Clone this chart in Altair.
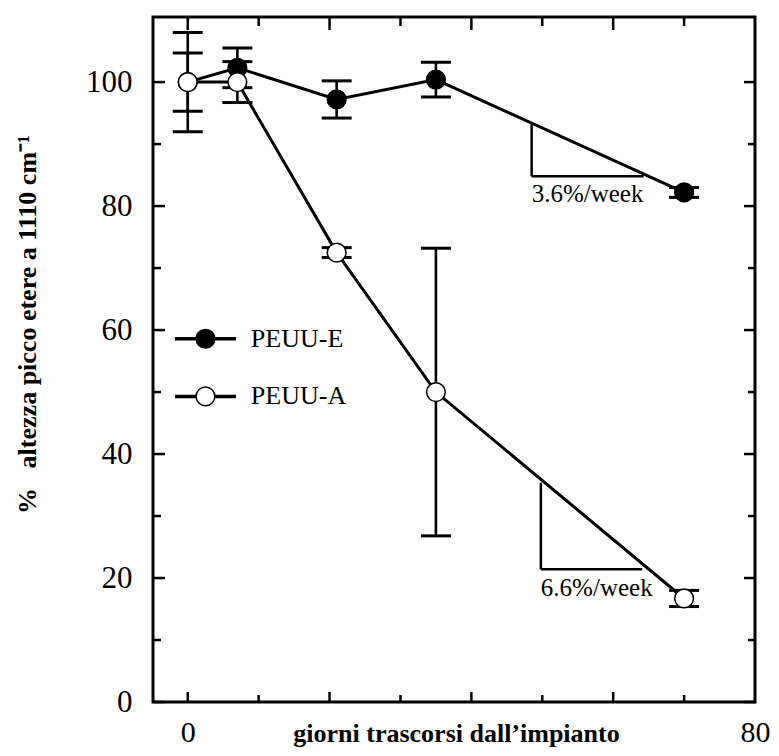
import altair as alt
import pandas as pd

# ---- data ----
days = [0, 7, 21, 35, 70]
peuu_e = [100.0, 102.3, 97.2, 100.4, 82.2]
peuu_e_err = [4.7, 3.2, 3.0, 2.8, 0.8]
peuu_a = [100.0, 100.0, 72.5, 50.0, 16.7]
peuu_a_err = [8.0, 3.3, 0.8, 23.2, 1.3]
series_names = ["PEUU-E", "PEUU-A"]

x_label_values = [0, 80]
y_label_values = [0, 20, 40, 60, 80, 100]
x_major_ticks = [0, 20, 40, 60]
x_minor_ticks = [10, 30, 50, 70]
y_major_ticks = [0, 20, 40, 60, 80, 100]
y_minor_ticks = [10, 30, 50, 70, 90]

slope_labels = ["3.6%/week", "6.6%/week"]
tri_x0 = [48.5, 49.8]
tri_x1 = [64.3, 64.1]
tri_ylow = [84.8, 21.4]
tri_yhigh = [93.2, 35.4]
slope_text_y = [80.6, 17.1]

legend_y = [58.6, 49.3]
legend_line_x = [-1.8, 6.8]
legend_marker_x = 2.5
legend_text_x = 8.9

# ---- layout ----
W, H = 602, 685
FONT = "Liberation Serif"
xs = alt.Scale(domain=[-4.9, 80], nice=False, zero=False)
ys = alt.Scale(domain=[0, 110.5], nice=False, zero=False)

AX = alt.Axis(
    values=x_label_values, ticks=False, tickSize=0, domain=False, grid=False,
    labelFont=FONT, labelFontSize=30, labelColor="black", labelPadding=15,
    labelFlush=False, labelOverlap=False,
    title="giorni trascorsi dall\u2019impianto", titleFont=FONT, titleFontSize=26,
    titleFontWeight="bold", titleColor="black", titleBaseline="alphabetic",
    titleX=303, titleY=39, titleAlign="center")
AY = alt.Axis(
    values=y_label_values, ticks=False, tickSize=0, domain=False, grid=False,
    labelFont=FONT, labelFontSize=31, labelColor="black", labelPadding=21,
    labelFlush=False, labelOverlap=False,
    title="%\u00a0\u00a0\u00a0altezza picco etere a 1110 cm\u207b\u00b9", titleFont=FONT,
    titleFontSize=26, titleFontWeight="bold", titleColor="black", titleAngle=270,
    titleBaseline="middle", titleAlign="center", titleX=-126, titleY=307)

rows = []
for name, vals, errs in [("PEUU-E", peuu_e, peuu_e_err), ("PEUU-A", peuu_a, peuu_a_err)]:
    for d, v, e in zip(days, vals, errs):
        rows.append({"day": d, "value": v, "lo": v - e, "hi": v + e, "series": name})
df = pd.DataFrame(rows)
df_e = df[df.series == "PEUU-E"]
df_a = df[df.series == "PEUU-A"]


def X(f="day"):
    return alt.X(f"{f}:Q", scale=xs, axis=AX)


def Y(f="value"):
    return alt.Y(f"{f}:Q", scale=ys, axis=AY)


lines = alt.Chart(df).mark_line(color="black", strokeWidth=3).encode(
    x=X(), y=Y(), detail="series:N")

err_rule = alt.Chart(df).mark_rule(color="black", strokeWidth=2.6).encode(
    x=X(), y=Y("lo"), y2="hi:Q")
cap_lo = alt.Chart(df).mark_tick(color="black", orient="horizontal", size=30,
                                 thickness=3, opacity=1).encode(x=X(), y=Y("lo"))
cap_hi = alt.Chart(df).mark_tick(color="black", orient="horizontal", size=30,
                                 thickness=3, opacity=1).encode(x=X(), y=Y("hi"))

pts_e = alt.Chart(df_e).mark_point(shape="circle", filled=True, fill="black", stroke="black",
                                   strokeWidth=1.5, size=350, opacity=1).encode(x=X(), y=Y())
pts_a = alt.Chart(df_a).mark_point(shape="circle", filled=True, fill="white", stroke="black",
                                   strokeWidth=1.5, size=350, opacity=1).encode(x=X(), y=Y())


def tick_df(vals):
    return pd.DataFrame({"v": vals})


tk = dict(color="black", strokeWidth=2.5)
left_major = alt.Chart(tick_df(y_major_ticks)).mark_rule(**tk).encode(
    y=Y("v"), x=alt.value(0), x2=alt.value(12))
left_minor = alt.Chart(tick_df(y_minor_ticks)).mark_rule(**tk).encode(
    y=Y("v"), x=alt.value(0), x2=alt.value(8))
right_major = alt.Chart(tick_df(y_major_ticks)).mark_rule(**tk).encode(
    y=Y("v"), x=alt.value(W), x2=alt.value(W - 11))
right_minor = alt.Chart(tick_df(y_minor_ticks)).mark_rule(**tk).encode(
    y=Y("v"), x=alt.value(W), x2=alt.value(W - 7))
top_major = alt.Chart(tick_df(x_major_ticks)).mark_rule(**tk).encode(
    x=X("v"), y=alt.value(0), y2=alt.value(13))
top_minor = alt.Chart(tick_df(x_minor_ticks)).mark_rule(**tk).encode(
    x=X("v"), y=alt.value(0), y2=alt.value(9))
bot_major = alt.Chart(tick_df(x_major_ticks)).mark_rule(**tk).encode(
    x=X("v"), y=alt.value(H), y2=alt.value(H - 10))
bot_minor = alt.Chart(tick_df(x_minor_ticks)).mark_rule(**tk).encode(
    x=X("v"), y=alt.value(H), y2=alt.value(H - 7))

tri = pd.DataFrame({"x0": tri_x0, "x1": tri_x1, "ylo": tri_ylow, "yhi": tri_yhigh,
                    "label": slope_labels, "ty": slope_text_y})
tri_v = alt.Chart(tri).mark_rule(color="black", strokeWidth=2.5).encode(
    x=X("x0"), y=Y("ylo"), y2="yhi:Q")
tri_h = alt.Chart(tri).mark_rule(color="black", strokeWidth=2.5).encode(
    x=X("x0"), x2="x1:Q", y=Y("ylo"))
tri_t = alt.Chart(tri).mark_text(font=FONT, fontSize=25, align="left", baseline="alphabetic",
                                 color="black").encode(x=X("x0"), y=Y("ty"), text="label:N")

leg = pd.DataFrame({"name": series_names, "y": legend_y,
                    "lx0": [legend_line_x[0]] * 2, "lx1": [legend_line_x[1]] * 2,
                    "mx": [legend_marker_x] * 2, "tx": [legend_text_x] * 2})
leg_line = alt.Chart(leg).mark_rule(color="black", strokeWidth=3.5).encode(
    x=X("lx0"), x2="lx1:Q", y=Y("y"))
leg_e = alt.Chart(leg[leg.name == "PEUU-E"]).mark_point(
    shape="circle", filled=True, fill="black", stroke="black", strokeWidth=1.5,
    size=350, opacity=1).encode(x=X("mx"), y=Y("y"))
leg_a = alt.Chart(leg[leg.name == "PEUU-A"]).mark_point(
    shape="circle", filled=True, fill="white", stroke="black", strokeWidth=1.5,
    size=350, opacity=1).encode(x=X("mx"), y=Y("y"))
leg_t = alt.Chart(leg).mark_text(font=FONT, fontSize=26, align="left", baseline="middle",
                                 color="black").encode(x=X("tx"), y=Y("y"), text="name:N")

chart = alt.layer(
    lines, err_rule, cap_lo, cap_hi, pts_e, pts_a,
    left_major, left_minor, right_major, right_minor,
    top_major, top_minor, bot_major, bot_minor,
    tri_v, tri_h, tri_t, leg_line, leg_e, leg_a, leg_t,
).properties(
    width=W, height=H,
    autosize=alt.AutoSizeParams(type="none"),
    padding={"left": 145, "top": 9, "right": 16, "bottom": 46},
    background="white",
).configure_view(stroke="black", strokeWidth=3)

chart.save("out.html", embed_options={"renderer": "svg", "actions": False})
